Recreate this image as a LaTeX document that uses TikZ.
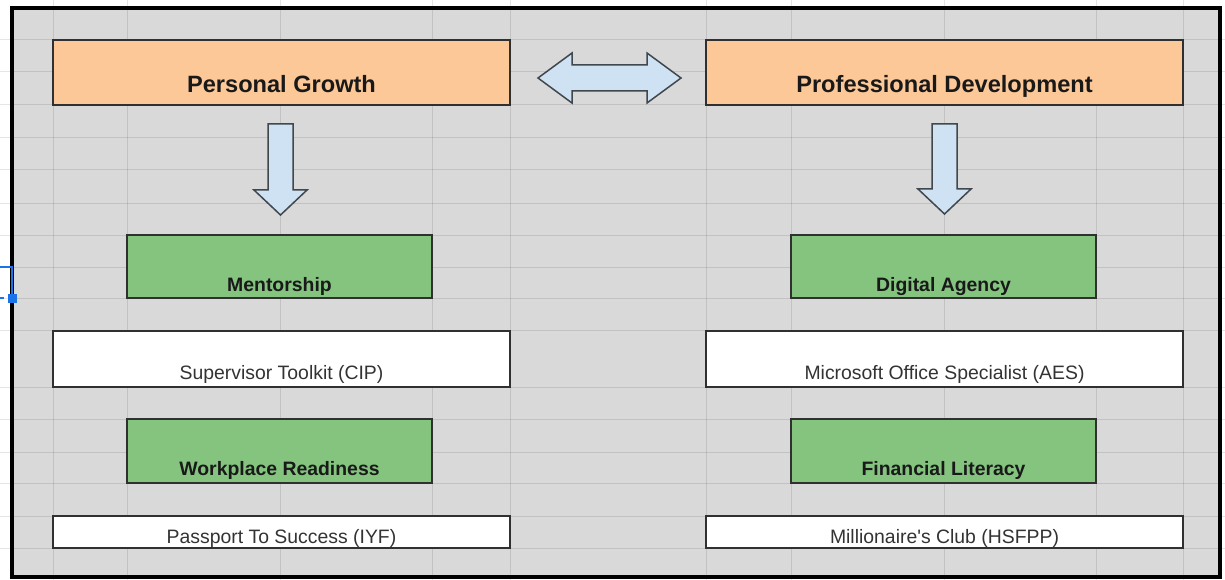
\documentclass[tikz,border=0pt]{standalone}
\usepackage{fontspec}
\setmainfont{Liberation Sans}
\usepackage{tikz}
\usetikzlibrary{calc}

\definecolor{sheetgrey}{HTML}{D9D9D9}
\definecolor{headorange}{HTML}{FCC897}
\definecolor{skillgreen}{HTML}{84C47F}
\definecolor{arrowblue}{HTML}{CFE2F3}
\definecolor{arrowline}{HTML}{40474D}
\definecolor{boxline}{HTML}{303030}
\definecolor{selblue}{HTML}{1A73E8}

\begin{document}
\begin{tikzpicture}[x=1pt,y=-1pt]
    \tikzset{box/.style={rectangle,draw=boxline,line width=1.5pt,inner sep=0pt},
             head/.style={box,fill=headorange,text height=53pt,text depth=12pt,
                          font=\fontsize{23.6}{26}\selectfont\bfseries,text=black!90},
             skill/.style={box,fill=skillgreen,text depth=7pt,
                          font=\fontsize{19.4}{22}\selectfont\bfseries,text=black!90},
             course/.style={box,fill=white,font=\fontsize{19.4}{22}\selectfont,text=black!80},
             blockarrow/.style={fill=arrowblue,draw=arrowline,line width=1.5pt,line join=miter},
             gridline/.style={draw=black,draw opacity=0.1,line width=1pt}};
    \useasboundingbox (0,0) rectangle (1225,580);
	% sheet and its cell grid
	\fill[sheetgrey] (12,8) rectangle (1220,577);
	\foreach \gy in {40,72,105,138,170,203,235,267,298,330,387,419,452,483,516,548}
		\draw[gridline] (0,\gy) -- (1225,\gy);
	\foreach \gx in {53,127,280,432,510,706,791,944,1096,1183}
		\draw[gridline] (\gx,0) -- (\gx,580);
	\draw[line width=4pt] (12,8) rectangle (1220,577);
	% left column
	\node (pgrowth) at (281.5,72.5) [head,minimum width=457pt]{Personal Growth};
	\node (mentor) at (279.5,266.5) [skill,minimum width=305pt,text height=56pt]{Mentorship};
	\node (toolkit) at (281.5,359) [course,minimum width=457pt,text height=48pt,text depth=8pt]{Supervisor Toolkit (CIP)};
	\node (readiness) at (279.5,451) [skill,minimum width=305pt,text height=56pt,text depth=8pt]{Workplace Readiness};
	\node (passport) at (281.5,532) [course,minimum width=457pt,text height=27pt,text depth=5pt]{Passport To Success (IYF)};
	% right column
	\node (profdev) at (944.5,72.5) [head,minimum width=477pt]{Professional Development};
	\node (digital) at (943.5,266.5) [skill,minimum width=305pt,text height=56pt]{Digital Agency};
	\node (mos) at (944.5,359) [course,minimum width=477pt,text height=48pt,text depth=8pt]{Microsoft Office Specialist (AES)};
	\node (finlit) at (943.5,451) [skill,minimum width=305pt,text height=56pt,text depth=8pt]{Financial Literacy};
	\node (millionaire) at (944.5,532) [course,minimum width=477pt,text height=27pt,text depth=5pt]{Millionaire\textquotesingle s Club (HSFPP)};
	% block arrows
	\draw[blockarrow] (538,78) -- (572,53) -- (572,65) -- (647,65) -- (647,53) -- (681,78)
		-- (647,103) -- (647,91) -- (572,91) -- (572,103) -- cycle;
	\draw[blockarrow] (268,124) -- (293,124) -- (293,190) -- (307,190) -- (280.5,215)
		-- (254,190) -- (268,190) -- cycle;
	\draw[blockarrow] (932,124) -- (957,124) -- (957,189) -- (971,189) -- (944.5,214)
		-- (918,189) -- (932,189) -- cycle;
	% selection marker at the left edge
	\draw[selblue,line width=2pt] (0,267) -- (12,267) -- (12,298);
	\draw[selblue,line width=2pt] (0,298) -- (4,298);
	\fill[selblue] (8,294) rectangle (17,303);
\end{tikzpicture}
\end{document}
